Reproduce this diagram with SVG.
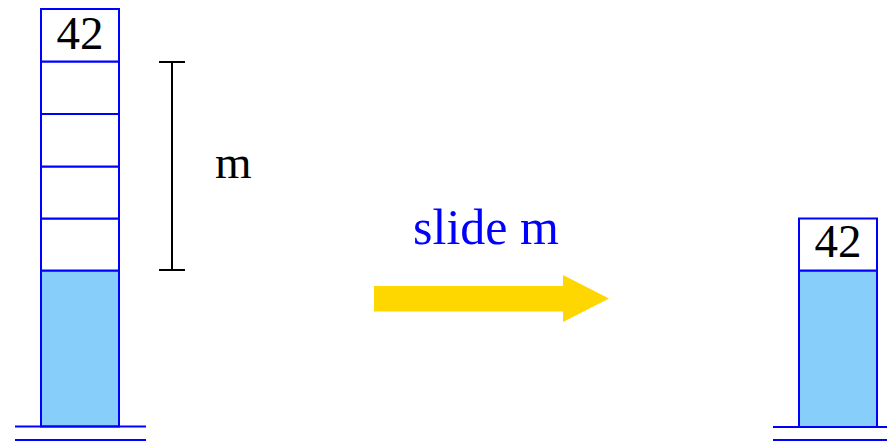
<svg xmlns="http://www.w3.org/2000/svg" width="887" height="442" viewBox="0 0 887 442">
<style>
.cell{fill:#ffffff;stroke:#0000ff;stroke-width:2}
.fill{fill:#87cefa;stroke:#0000ff;stroke-width:2}
.base{stroke:#0000ff;stroke-width:2}
.t{font-family:"Liberation Serif","Times New Roman",serif;font-size:47px;fill:#000}
.blue{fill:#0000ff;font-size:50px}
.br{stroke:#000;stroke-width:2}
</style>
<g id="left-stack">
<rect class="fill" x="41" y="270.5" width="78" height="156"/>
<rect class="cell" x="41" y="218.5" width="78" height="52"/>
<rect class="cell" x="41" y="166.5" width="78" height="52"/>
<rect class="cell" x="41" y="114" width="78" height="52.5"/>
<rect class="cell" x="41" y="61.5" width="78" height="52.5"/>
<rect class="cell" x="41" y="9" width="78" height="52.5"/>
<text class="t" x="80" y="49" text-anchor="middle">42</text>
<line class="base" x1="15" y1="426.5" x2="146" y2="426.5"/>
<line class="base" x1="15" y1="440" x2="146" y2="440"/>
</g>
<g id="bracket">
<line class="br" x1="172" y1="62" x2="172" y2="270"/>
<line class="br" x1="159" y1="62" x2="185" y2="62"/>
<line class="br" x1="159" y1="270" x2="185" y2="270"/>
<text class="t" x="215" y="178">m</text>
</g>
<g id="connectors">
<polygon fill="#ffd700" points="374,286 563,286 563,275 609,298.5 563,322 563,311.5 374,311.5"/>
<text class="t blue" x="486" y="244" text-anchor="middle">slide m</text>
</g>
<g id="right-stack">
<rect class="fill" x="799" y="270.5" width="78" height="156.5"/>
<rect class="cell" x="799" y="218.5" width="78" height="52"/>
<text class="t" x="838" y="257" text-anchor="middle">42</text>
<line class="base" x1="773" y1="427" x2="887" y2="427"/>
<line class="base" x1="773" y1="440" x2="887" y2="440"/>
</g>
</svg>
